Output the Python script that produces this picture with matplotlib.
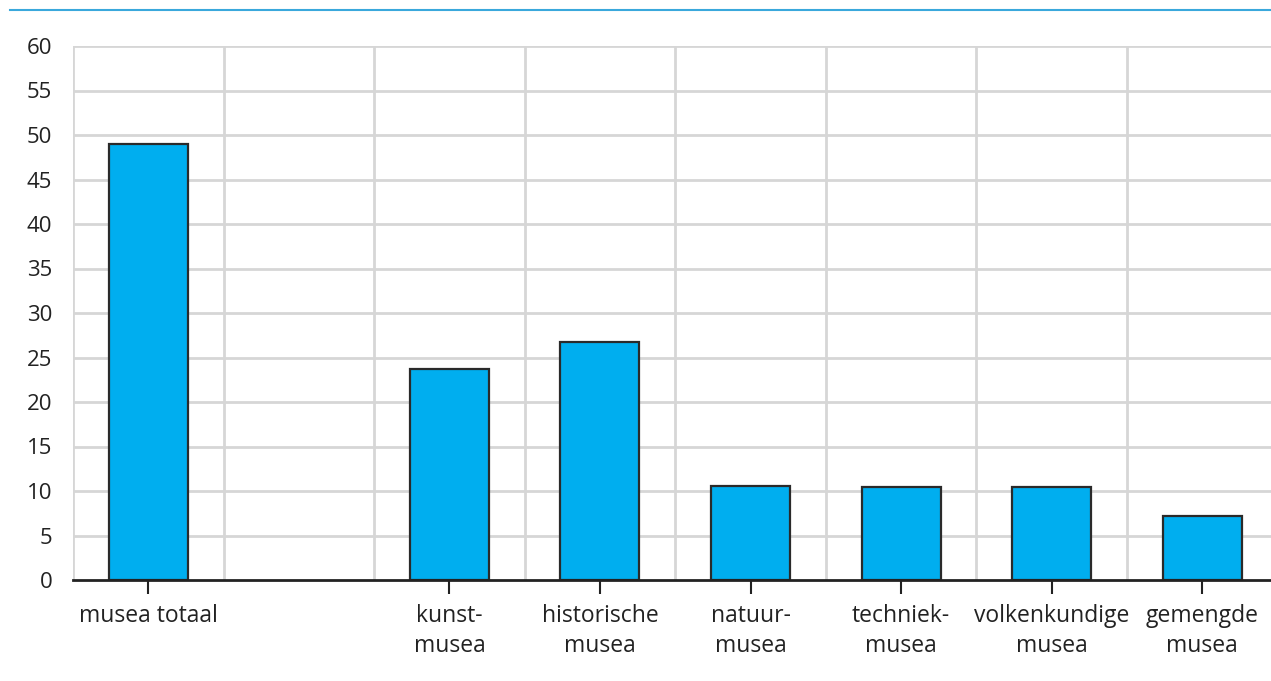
import matplotlib
matplotlib.use("Agg")
import matplotlib.pyplot as plt
from matplotlib.lines import Line2D

categories = ["musea totaal", "", "kunst-\nmusea", "historische\nmusea", "natuur-\nmusea",
              "techniek-\nmusea", "volkenkundige\nmusea", "gemengde\nmusea"]
values = [49.0, None, 23.7, 26.7, 10.6, 10.4, 10.4, 7.2]
yticks = list(range(0, 61, 5))

plt.rcParams['font.family'] = ['Open Sans', 'DejaVu Sans']

W, H = 1271, 681
fig = plt.figure(figsize=(W / 100, H / 100), dpi=100)
left, right, bottom, top = 73, 1277.5, 580, 46
ax = fig.add_axes([left / W, 1 - bottom / H, (right - left) / W, (bottom - top) / H])

pos = [i for i, v in enumerate(values) if v is not None]
vals = [v for v in values if v is not None]
labels = [categories[i] for i in pos]

ax.bar(pos, vals, width=0.525, color="#00AEEF", edgecolor="#2a2a2a", linewidth=1.6, zorder=3)

ax.set_xlim(-0.5, len(categories) - 0.5)
ax.set_ylim(0, 60)
ax.set_yticks(yticks)
ax.set_yticklabels([str(t) for t in yticks], fontsize=16, color="#222222")
ax.set_xticks(pos)
ax.set_xticklabels(labels, fontsize=16.5, color="#222222", linespacing=1.38)

grid_c = "#d6d6d6"
for t in yticks[1:]:
    ax.axhline(t, color=grid_c, linewidth=2, zorder=1)
for k in range(len(categories) + 1):
    ax.axvline(k - 0.5, color=grid_c, linewidth=2, zorder=1)

for s in ["top", "right", "left"]:
    ax.spines[s].set_visible(False)
ax.spines["bottom"].set_color("#222222")
ax.spines["bottom"].set_linewidth(2)
ax.spines["bottom"].set_zorder(4)

ax.tick_params(axis="y", length=0, pad=15)
ax.tick_params(axis="x", length=10, width=1.5, color="#222222", pad=7, direction="out")

fig.add_artist(Line2D([10 / W, 1.0], [1 - 10 / H, 1 - 10 / H], color="#3aa8dc",
                      linewidth=1.5, transform=fig.transFigure))

fig.savefig("out.png", dpi=100)
